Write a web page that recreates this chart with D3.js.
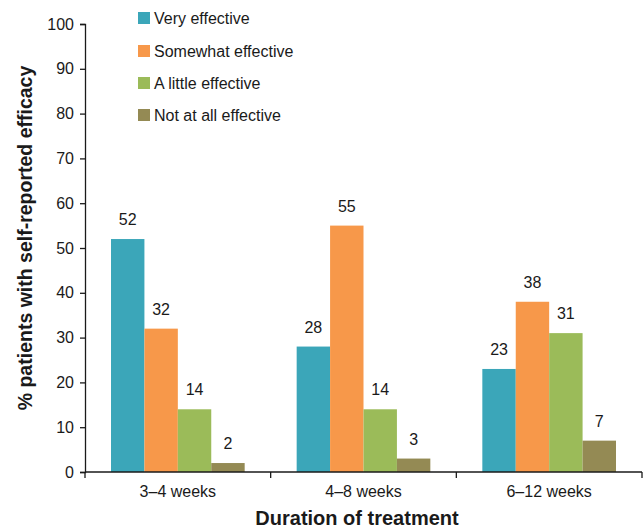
<!DOCTYPE html>
<html>
<head>
<meta charset="utf-8">
<script src="https://cdn.jsdelivr.net/npm/d3@7"></script>
<style>
  body { margin: 0; background: #fff; }
  svg { display: block; font-family: "Liberation Sans", Arial, sans-serif; }
</style>
</head>
<body>
<svg id="chart" width="644" height="529"></svg>
<script>
// Treatment durations (x categories)
const durations = ["3–4 weeks", "4–8 weeks", "6–12 weeks"];
// Response categories (series)
const responses = ["Very effective", "Somewhat effective", "A little effective", "Not at all effective"];
const responseColors = ["#3ba6b9", "#f7984a", "#9bbb59", "#948a54"];
// Percent of patients per duration, one array per response
const veryEffective = [52, 28, 23];
const somewhatEffective = [32, 55, 38];
const littleEffective = [14, 14, 31];
const notEffective = [2, 3, 7];
const yTicks = [0, 10, 20, 30, 40, 50, 60, 70, 80, 90, 100];

const seriesValues = [veryEffective, somewhatEffective, littleEffective, notEffective];
const rows = [];
durations.forEach((d, i) => {
  responses.forEach((r, j) => rows.push({ duration: d, response: r, value: seriesValues[j][i] }));
});

const svg = d3.select("#chart");
const plotLeft = 85, plotRight = 642, plotTop = 24, plotBottom = 472;
const FONT = "Liberation Sans, Arial, sans-serif";
const INK = "#1a1a1a";

const x = d3.scaleBand().domain(durations).range([plotLeft, plotRight]).paddingInner(0).paddingOuter(0);
const xInner = d3.scaleBand().domain(responses).range([26, x.bandwidth() - 26]).padding(0);
const y = d3.scaleLinear().domain([0, 100]).range([plotBottom, plotTop]);
const color = d3.scaleOrdinal().domain(responses).range(responseColors);

// Bars
svg.append("g").selectAll("rect").data(rows).join("rect")
  .attr("x", d => x(d.duration) + xInner(d.response))
  .attr("y", d => y(d.value))
  .attr("width", xInner.bandwidth())
  .attr("height", d => y(0) - y(d.value))
  .attr("fill", d => color(d.response));

// Value labels
svg.append("g").selectAll("text").data(rows).join("text")
  .attr("x", d => x(d.duration) + xInner(d.response) + xInner.bandwidth() / 2)
  .attr("y", d => y(d.value) - 14)
  .attr("text-anchor", "middle")
  .attr("font-size", 16)
  .attr("fill", INK)
  .text(d => d.value);

// Y axis
const yAxis = svg.append("g")
  .attr("transform", `translate(${plotLeft},0)`)
  .call(d3.axisLeft(y).tickValues(yTicks).tickSize(5).tickPadding(6));
yAxis.select(".domain").attr("stroke", INK).attr("stroke-width", 1.3);
yAxis.selectAll(".tick line").attr("stroke", INK).attr("stroke-width", 1.3);
yAxis.selectAll(".tick text").attr("font-size", 16).attr("fill", INK).attr("font-family", FONT);

// X axis: ticks at the band boundaries
const xAxisG = svg.append("g").attr("transform", `translate(0,${plotBottom})`);
xAxisG.append("line").attr("x1", plotLeft).attr("x2", plotRight).attr("stroke", INK).attr("stroke-width", 1.3);
const edges = durations.map(d => x(d)).concat([x(durations[durations.length - 1]) + x.bandwidth()]);
xAxisG.selectAll("line.edge").data(edges).join("line").attr("class", "edge")
  .attr("x1", d => d).attr("x2", d => d).attr("y1", 0).attr("y2", 6)
  .attr("stroke", INK).attr("stroke-width", 1.3);
xAxisG.selectAll("text").data(durations).join("text")
  .attr("x", d => x(d) + x.bandwidth() / 2)
  .attr("y", 25)
  .attr("text-anchor", "middle")
  .attr("font-size", 16)
  .attr("fill", INK)
  .text(d => d);

// Axis titles
svg.append("text")
  .attr("x", 357)
  .attr("y", 525)
  .attr("text-anchor", "middle")
  .attr("font-size", 20)
  .attr("font-weight", "bold")
  .attr("fill", INK)
  .text("Duration of treatment");

svg.append("text")
  .attr("transform", `translate(32,238) rotate(-90)`)
  .attr("text-anchor", "middle")
  .attr("font-size", 19.5)
  .attr("font-weight", "bold")
  .attr("fill", INK)
  .text("% patients with self-reported efficacy");

// Legend
const legendY = [18, 51, 83, 115];
const legend = svg.append("g").selectAll("g").data(responses).join("g")
  .attr("transform", (d, i) => `translate(138,${legendY[i]})`);
legend.append("rect").attr("x", 0).attr("y", -6).attr("width", 12).attr("height", 12)
  .attr("fill", d => color(d));
legend.append("text").attr("x", 16).attr("y", 6)
  .attr("font-size", 16).attr("fill", INK).text(d => d);
</script>
</body>
</html>
